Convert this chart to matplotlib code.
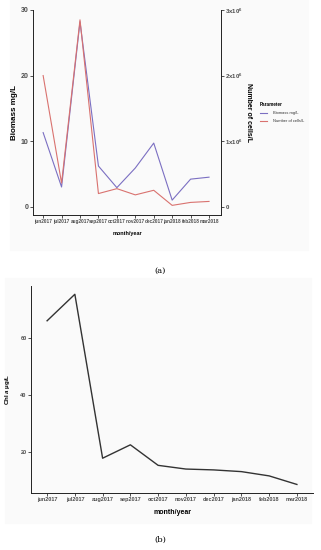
import numpy as np
import matplotlib
matplotlib.use('Agg')
from matplotlib import pyplot as plt
from matplotlib.lines import Line2D
from matplotlib.patches import Rectangle

plt.rcParams['font.family'] = ['Liberation Sans', 'DejaVu Sans']
plt.rcParams['mathtext.fontset'] = 'custom'
plt.rcParams['mathtext.rm'] = 'Liberation Sans:bold'
plt.rcParams['mathtext.it'] = 'Liberation Sans:italic:bold'

months = ['jun2017', 'jul2017', 'aug2017', 'sep2017', 'oct2017',
          'nov2017', 'dec2017', 'jan2018', 'feb2018', 'mar2018']
biomass = [11.3, 3.0, 28.2, 6.2, 2.9, 5.9, 9.7, 1.0, 4.2, 4.5]          # mg/L
cells = [2.0e6, 3.6e5, 2.85e6, 2.0e5, 2.75e5, 1.8e5, 2.5e5, 2.0e4, 6.5e4, 8.0e4]  # cells/L
chla = [66.0, 75.3, 17.8, 22.5, 15.3, 14.0, 13.7, 13.1, 11.6, 8.6]     # ug/L

left_ticks = [0, 10, 20, 30]
right_ticks = [0, 1e6, 2e6, 3e6]
right_labels = ['0', '1x10$^{6}$', '2x10$^{6}$', '3x10$^{6}$']
chla_ticks = [20, 40, 60]

c_bio = '#7b6fc2'
c_cells = '#d9726f'
tick_col = '#4d4d4d'

fig = plt.figure(figsize=(3.21, 5.5), dpi=100)
fig.add_artist(Rectangle((0.03, 1 - 250 / 550), 0.93, 250 / 550, transform=fig.transFigure,
                         color='#fafafa', zorder=-10))
fig.add_artist(Rectangle((0.015, 1 - 523 / 550), 0.955, 245 / 550, transform=fig.transFigure,
                         color='#fafafa', zorder=-10))


def style_axes(a, fs):
    for s in ['top', 'right']:
        a.spines[s].set_visible(False)
    for s in ['left', 'bottom']:
        a.spines[s].set_linewidth(0.7)
        a.spines[s].set_color('#222222')
    a.tick_params(length=2, width=0.6, color='#333333', labelsize=fs,
                  labelcolor=tick_col, pad=1.2)
    for lab in a.get_xticklabels() + a.get_yticklabels():
        lab.set_fontweight('bold')
    a.patch.set_alpha(0)


# ---- (a) biomass and cell numbers
ax = fig.add_axes([33 / 321, 1 - 215 / 550, 188 / 321, 205 / 550])
x = np.arange(len(months))
ax.plot(x, biomass, color=c_bio, lw=0.8)
ax.set_xlim(-0.55, 9.65)
ax.set_ylim(-1.27, 30)
ax.set_yticks(left_ticks)
ax.set_xticks(x)
ax.set_xticklabels(months)
style_axes(ax, 3.4)
ax.tick_params(axis='y', labelsize=5.0)
ax.set_ylabel('Biomass mg/L', fontsize=5.8, fontweight='bold', labelpad=2)
ax.set_xlabel('month/year', fontsize=4.0, fontweight='bold', labelpad=5)

ax2 = ax.twinx()
lo, hi = ax.get_ylim()
ax2.set_ylim(lo * 1e5, hi * 1e5)
ax2.plot(x, cells, color=c_cells, lw=0.8)
for s in ['top', 'left', 'bottom']:
    ax2.spines[s].set_visible(False)
ax2.spines['right'].set_linewidth(0.7)
ax2.spines['right'].set_color('#222222')
ax2.set_yticks(right_ticks)
ax2.set_yticklabels(right_labels)
ax2.tick_params(length=2, width=0.6, color='#333333', labelsize=4.4,
                labelcolor=tick_col, pad=1.2)
for lab in ax2.get_yticklabels():
    lab.set_fontweight('bold')
ax2.set_ylabel('Number of cells/L', fontsize=5.0, fontweight='bold',
               rotation=270, labelpad=6)

handles = [Line2D([], [], color=c_bio, lw=0.8), Line2D([], [], color=c_cells, lw=0.8)]
leg = fig.legend(handles, ['Biomass mg/L', 'Number of cells/L'], title='Parameter',
                 loc='upper left', bbox_to_anchor=(256 / 321, 1 - 98 / 550),
                 frameon=False, fontsize=2.9, title_fontsize=3.3,
                 handlelength=1.8, handletextpad=1.6, labelspacing=1.1)
leg.get_title().set_fontweight('bold')
leg._legend_box.align = 'left'
for t in leg.get_texts():
    t.set_color('#333333')
fig.text(160 / 321, 1 - 271 / 550, '(a)', ha='center', va='center',
         fontsize=6, family='DejaVu Serif')

# ---- (b) chlorophyll a
bx = fig.add_axes([31 / 321, 1 - 493 / 550, 282 / 321, 207 / 550])
bx.plot(x, chla, color='#333333', lw=1.0)
bx.set_xlim(-0.58, 9.58)
bx.set_ylim(5.6, 78.2)
bx.set_yticks(chla_ticks)
bx.set_xticks(x)
bx.set_xticklabels(months)
style_axes(bx, 4.0)
bx.set_ylabel(r'Chl $\mathit{a}$ $\mathrm{\mu}$g/L', fontsize=4.4, fontweight='bold', labelpad=6)
bx.set_xlabel('month/year', fontsize=5.0, fontweight='bold', labelpad=5)
fig.text(160 / 321, 1 - 540 / 550, '(b)', ha='center', va='center',
         fontsize=6, family='DejaVu Serif')

fig.savefig('out.png', dpi=100)
